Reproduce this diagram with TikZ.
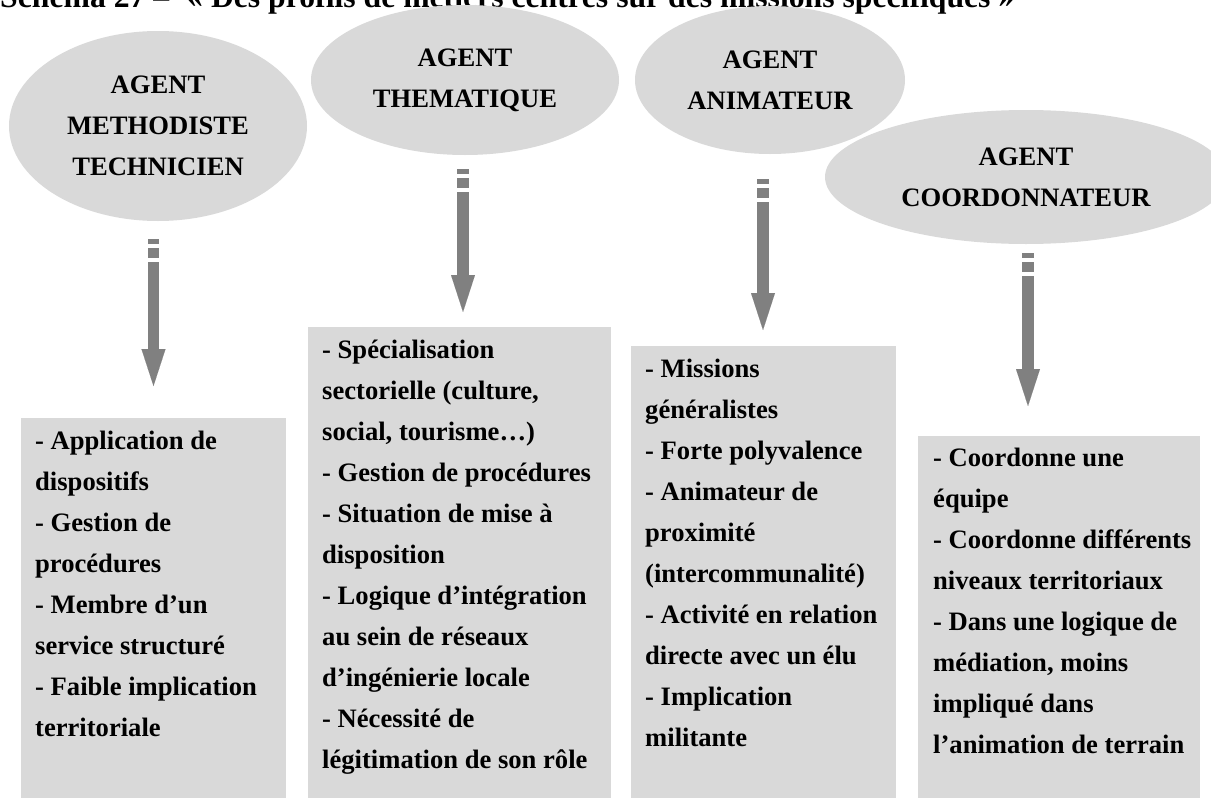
\documentclass[tikz,border=0pt]{standalone}
\usepackage{fontspec}
\setmainfont{Liberation Serif}
\usetikzlibrary{shapes.geometric,arrows.meta}
\definecolor{grisfond}{HTML}{D9D9D9}
\definecolor{grisfleche}{HTML}{808080}

\begin{document}
\begin{tikzpicture}[
    x=1pt,
    y=-1pt,
    font=\fontsize{26.6}{41}\selectfont\bfseries,
    agent/.style={ellipse, fill=grisfond, inner sep=0pt, align=center},
    bloc/.style={rectangle, fill=grisfond, anchor=north west, inner sep=0pt},
    liste/.style={anchor=north west, align=left, inner sep=0pt},
    fleche/.style={grisfleche, line width=11.5pt,
      dash pattern=on 5pt off 4pt on 10pt off 4pt on 2000pt off 1pt,
      -{Triangle[width=24pt,length=37pt,line width=0.01pt]}}
  ]
    \useasboundingbox (0,0) rectangle (1211,798);
    \clip (0,0) rectangle (1211,798);

    % Titre (coupé par le haut de la page)
    \node[anchor=base west, inner sep=0pt, font=\fontsize{31.7}{36}\selectfont\bfseries]
      (titre) at (0,7)
      {Schéma 27 –\hspace{18pt}« Des profils de métiers centrés sur des missions spécifiques »};

    % --- Les quatre profils d'agent ---
    \node[agent, minimum width=298pt, minimum height=190pt]
      (methodiste) at (158,126) {AGENT\\METHODISTE\\TECHNICIEN};
    \node[agent, minimum width=308pt, minimum height=150pt]
      (thematique) at (465,80) {AGENT\\THEMATIQUE};
    \node[agent, minimum width=270pt, minimum height=148pt]
      (animateur) at (770,80) {AGENT\\ANIMATEUR};
    \node[agent, minimum width=402pt, minimum height=134pt]
      (coordonnateur) at (1026,177) {AGENT\\COORDONNATEUR};

    % --- Blocs de missions ---
    \node[bloc, minimum width=265pt, minimum height=382pt] (b1) at (21,418) {};
    \node[liste] (t1) at (35,431) {- Application de\\dispositifs\\- Gestion de\\procédures\\- Membre d’un\\service structuré\\- Faible implication\\territoriale};

    \node[bloc, minimum width=303pt, minimum height=473pt] (b2) at (308,327) {};
    \node[liste] (t2) at (322,340) {- Spécialisation\\sectorielle (culture,\\social, tourisme…)\\- Gestion de procédures\\- Situation de mise à\\disposition\\- Logique d’intégration\\au sein de réseaux\\d’ingénierie locale\\- Nécessité de\\légitimation de son rôle};

    \node[bloc, minimum width=265pt, minimum height=454pt] (b3) at (631,346) {};
    \node[liste] (t3) at (645,359) {- Missions\\généralistes\\- Forte polyvalence\\- Animateur de\\proximité\\(intercommunalité)\\- Activité en relation\\directe avec un élu\\- Implication\\militante};

    \node[bloc, minimum width=282pt, minimum height=364pt] (b4) at (918,436) {};
    \node[liste] (t4) at (933,448) {- Coordonne une\\équipe\\- Coordonne différents\\niveaux territoriaux\\- Dans une logique de\\médiation, moins\\impliqué dans\\l’animation de terrain};

    % --- Flèches (départ en pointillé sous chaque ellipse) ---
    \coordinate (f1) at (153.5,239);
    \coordinate (f2) at (463,169);
    \coordinate (f3) at (763,179);
    \coordinate (f4) at (1028,253);
    \draw[fleche, shorten >=32pt] (f1) -- (f1 |- b1.north);
    \draw[fleche, shorten >=15pt] (f2) -- (f2 |- b2.north);
    \draw[fleche, shorten >=16pt] (f3) -- (f3 |- b3.north);
    \draw[fleche, shorten >=30pt] (f4) -- (f4 |- b4.north);
  \end{tikzpicture}
\end{document}
